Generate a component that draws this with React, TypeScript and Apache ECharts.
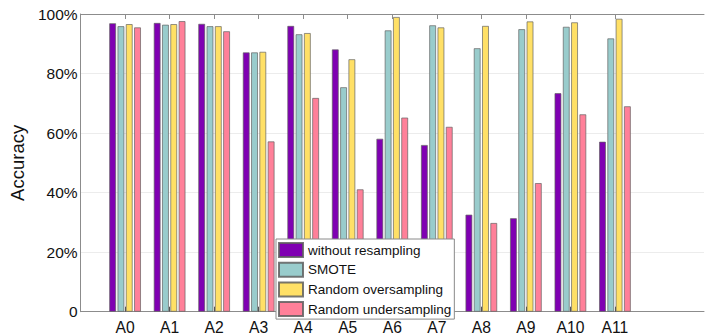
import React, { useEffect, useRef } from "react";
import * as echarts from "echarts";

// Accuracy (%) per attribute, one array per resampling strategy
const categories = ["A0", "A1", "A2", "A3", "A4", "A5", "A6", "A7", "A8", "A9", "A10", "A11"];
const withoutResampling = [96.9, 97.0, 96.7, 87.1, 96.0, 88.1, 58.1, 56.0, 32.6, 31.4, 73.4, 57.1];
const smote = [95.9, 96.4, 95.9, 87.1, 93.2, 75.4, 94.5, 96.2, 88.5, 94.9, 95.7, 91.8];
const randomOversampling = [96.6, 96.6, 95.9, 87.3, 93.6, 84.8, 99.0, 95.5, 96.0, 97.5, 97.2, 98.4];
const randomUndersampling = [95.5, 97.6, 94.2, 57.2, 71.8, 41.1, 65.2, 62.1, 29.8, 43.2, 66.3, 69.0];
const yTicks = [0, 20, 40, 60, 80, 100];

const seriesNames = ["without resampling", "SMOTE", "Random oversampling", "Random undersampling"];
const seriesColors = ["#7F00B2", "#99CCCC", "#FFE066", "#FF8099"];

// one empty slot before A0 and two after A11 give the axis its padding
const axisCats = ["", ...categories, "", ""];
const pad = (arr: number[]) => ["-", ...arr, "-", "-"];

const FONT = "'Liberation Sans', Arial, Helvetica, sans-serif";
const AXIS_GREY = "#8c8c8c";

export default function App() {
  const ref = useRef<HTMLDivElement>(null);

  useEffect(() => {
    if (!ref.current) return;
    const chart = echarts.init(ref.current, undefined, { renderer: "svg" });
    const values = [withoutResampling, smote, randomOversampling, randomUndersampling];
    const hasCat = (_i: number, v: string) => v !== "";

    chart.setOption({
      animation: false,
      backgroundColor: "#ffffff",
      textStyle: { fontFamily: FONT },
      grid: { left: 77.3, right: -10.4, top: 14, bottom: 24.3 },
      legend: {
        orient: "vertical",
        left: 276,
        top: 239,
        icon: "rect",
        itemWidth: 24,
        itemHeight: 14,
        itemGap: 3.7,
        padding: [3, 3, 2, 2],
        borderColor: "#8a8a8a",
        borderWidth: 1,
        backgroundColor: "#ffffff",
        textStyle: { fontFamily: FONT, fontSize: 13.5, color: "#111" },
        data: seriesNames,
        z: 10,
      },
      xAxis: [
        {
          type: "category",
          data: axisCats,
          boundaryGap: false,
          position: "bottom",
          axisLine: { show: true, lineStyle: { color: AXIS_GREY, width: 1 } },
          axisTick: { show: true, inside: true, length: 5, interval: hasCat, lineStyle: { color: "#555" } },
          axisLabel: { interval: 0, fontSize: 15.7, color: "#111", fontFamily: FONT, margin: 8 },
          splitLine: { show: false },
        },
        {
          type: "category",
          data: axisCats,
          boundaryGap: false,
          position: "top",
          axisLine: { show: true, lineStyle: { color: AXIS_GREY, width: 1 } },
          axisTick: { show: true, inside: true, length: 5, interval: hasCat, lineStyle: { color: AXIS_GREY } },
          axisLabel: { show: false },
          splitLine: { show: false },
        },
      ],
      yAxis: {
        type: "value",
        min: 0,
        max: 100,
        interval: 20,
        name: "Accuracy",
        nameLocation: "middle",
        nameGap: 49,
        nameTextStyle: { fontSize: 18.5, color: "#111", fontFamily: FONT },
        axisLine: { show: true, lineStyle: { color: AXIS_GREY, width: 1 } },
        axisTick: { show: false },
        axisLabel: {
          fontSize: 15.5,
          color: "#111",
          fontFamily: FONT,
          margin: 3,
          formatter: (v: number) => (yTicks.includes(v) ? (v === 0 ? "0" : `${v}%`) : ""),
        },
        splitLine: { show: true, lineStyle: { color: "#ececec", width: 1 } },
      },
      series: values.map((arr, i) => ({
        name: seriesNames[i],
        type: "bar",
        xAxisIndex: 0,
        data: pad(arr),
        barWidth: 6.8,
        barGap: "22%",
        itemStyle: {
          color: seriesColors[i],
          borderColor: "rgba(95,95,95,0.85)",
          borderWidth: 0.8,
        },
      })),
    });

    return () => chart.dispose();
  }, []);

  return (
    <div
      ref={ref}
      style={{ position: "absolute", left: 0, top: 0, width: 707, height: 336 }}
    />
  );
}
